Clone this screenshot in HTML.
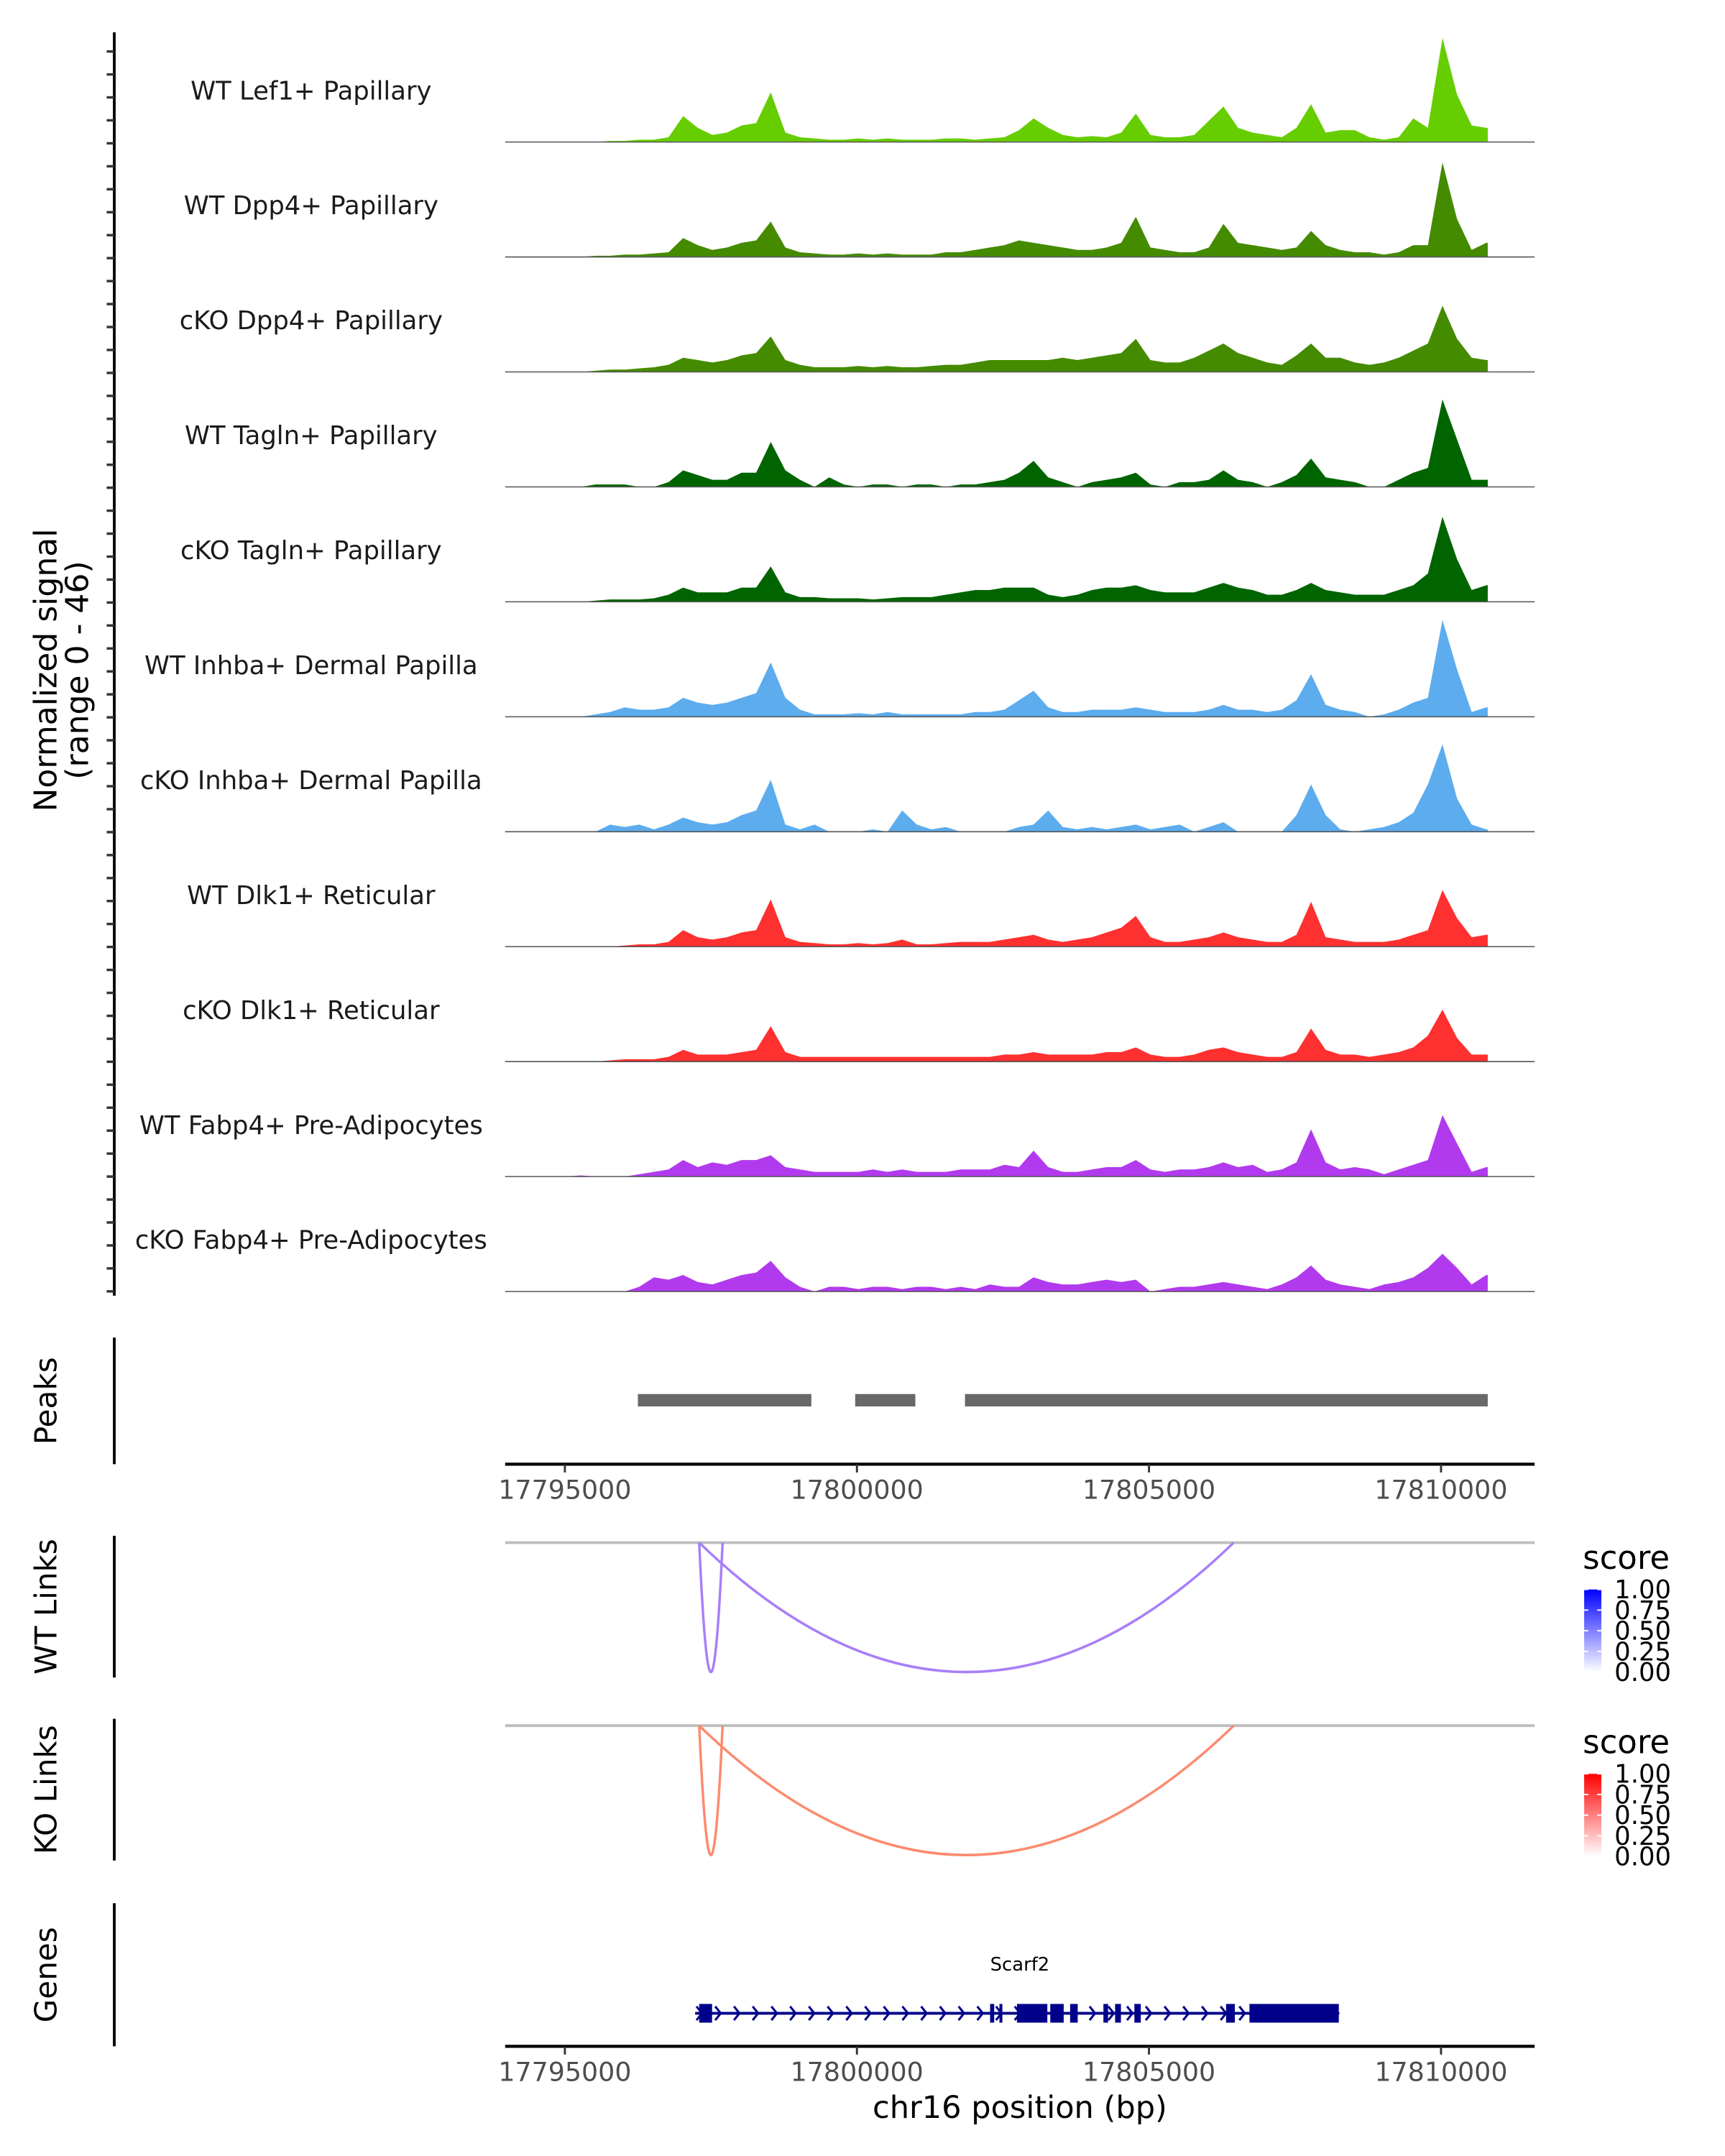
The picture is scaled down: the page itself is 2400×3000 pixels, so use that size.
<!DOCTYPE html>
<html><head><meta charset="utf-8"><style>
html,body{margin:0;padding:0;background:#fff;}
svg{display:block;font-family:"DejaVu Sans","Liberation Sans",sans-serif;}
</style></head><body>
<svg id="chart" width="2400" height="3000" viewBox="0 0 1253.3 1566.7" xmlns="http://www.w3.org/2000/svg">
<rect width="1253.3" height="1566.7" fill="#fff"/>
<g id="tracks"></g>
<g id="yaxis"></g>
<text transform="translate(41,487) rotate(-90)" text-anchor="middle" font-size="23" fill="#000">Normalized signal</text>
<text transform="translate(64,487) rotate(-90)" text-anchor="middle" font-size="23" fill="#000">(range 0 - 46)</text>
<g id="peaks"></g>
<g id="links"></g>
<g id="genes"></g>
<g id="legends"></g>
</svg>
<script>
const NS="http://www.w3.org/2000/svg";
const binStart=17795000, binSize=250;
const trackNames=["WT Lef1+ Papillary","WT Dpp4+ Papillary","cKO Dpp4+ Papillary","WT Tagln+ Papillary","cKO Tagln+ Papillary","WT Inhba+ Dermal Papilla","cKO Inhba+ Dermal Papilla","WT Dlk1+ Reticular","cKO Dlk1+ Reticular","WT Fabp4+ Pre-Adipocytes","cKO Fabp4+ Pre-Adipocytes"];
const trackColors=["#66cd00","#458b00","#458b00","#006400","#006400","#5cacee","#5cacee","#ff3030","#ff3030","#b23aee","#b23aee"];
const sigLef1WT=[0,0,0,0.5,0.5,1,1,2,11,6,3,4,7,8,21,4,2,1.5,1,1,1.5,1,1.5,1,1,1,1.5,1.5,1,1.5,2,5,10,6,3,2,2.5,2,4,12,3,2,2,3,9,15,6,4,3,2,6,16,4,5,5,2,1,2,10,6,44,20,7,6];
const sigDpp4WT=[0,0,0.5,0.5,1,1,1.5,2,8,5,3,4,6,7,15,4,2,1.5,1,1,1.5,1,1.5,1,1,1,2,2,3,4,5,7,6,5,4,3,3,4,6,17,4,3,2,2,4,14,6,5,4,3,4,11,5,3,2,2,1,2,5,5,40,16,3,6];
const sigDpp4KO=[0,0,0.5,1,1,1.5,2,3,6,5,4,5,7,8,15,5,3,2,2,2,2.5,2,2.5,2,2,2.5,3,3,4,5,5,5,5,5,6,5,6,7,8,14,5,4,4,6,9,12,8,6,4,3,7,12,6,6,4,3,4,6,9,12,28,14,6,5];
const sigTaglnWT=[0,0,1,1,1,0,0,2,7,5,3,3,6,6,19,7,3,0,4,1,0,1,1,0,1,1,0,1,1,2,3,6,11,4,2,0,2,3,4,6,1,0,2,2,3,7,3,2,0,2,5,12,4,3,2,0,0,3,6,8,37,20,3,3];
const sigTaglnKO=[0,0,0.5,1,1,1,1.5,3,6,4,4,4,6,6,15,4,2,2,1.5,1.5,1.5,1,1.5,2,2,2,3,4,5,5,6,6,6,3,2,3,5,6,6,7,5,4,4,4,6,8,6,5,3,3,5,8,5,4,3,3,3,5,7,12,36,18,5,7];
const sigInhbaWT=[0,0,1,2,4,3,3,4,8,6,5,6,8,10,23,8,3,1,1,1,1.5,1,2,1,1,1,1,1,2,2,3,7,11,4,2,2,3,3,3,4,3,2,2,2,3,5,3,3,2,3,7,18,5,3,2,0,1,3,6,8,41,20,2,4];
const sigInhbaKO=[0,0,0,3,2,3,1,3,6,4,3,4,7,9,22,3,1,3,0,0,0,1,0,9,3,1,2,0,0,0,0,2,3,9,2,1,2,1,2,3,1,2,3,0,2,4,0,0,0,0,7,20,7,1,0,1,2,4,8,20,37,14,3,1];
const sigDlk1WT=[0,0,0,0,0.5,1,1,2,7,4,3,4,6,7,20,4,2,1.5,1,1,1.5,1,1.5,3,1,1,1.5,2,2,2,3,4,5,3,2,3,4,6,8,13,4,2,2,3,4,6,4,3,2,2,5,19,4,3,2,2,2,3,5,7,24,12,4,5];
const sigDlk1KO=[0,0,0,0.5,1,1,1,2,5,3,3,3,4,5,15,4,2,2,2,2,2,2,2,2,2,2,2,2,2,2,3,3,4,3,3,3,3,4,4,6,3,2,2,3,5,6,4,3,2,2,4,14,5,3,3,2,3,4,6,11,22,10,3,3];
const sigFabp4WT=[0,0.5,0,0,0,1,2,3,7,4,6,5,7,7,9,4,3,2,2,2,2,3,2,3,2,2,2,3,3,3,5,4,11,4,2,2,3,4,4,7,3,2,3,3,4,6,4,5,2,3,6,20,6,3,4,3,1,3,5,7,26,14,2,4];
const sigFabp4KO=[0,0,0,0,0,2,6,5,7,4,3,5,7,8,13,6,2,0,2,2,1,2,2,1,2,2,1,2,1,3,2,2,6,4,3,3,4,5,4,5,0,1,2,2,3,4,3,2,1,3,6,11,5,3,2,1,3,4,6,10,16,10,3,7];
const signals=[sigLef1WT,sigDpp4WT,sigDpp4KO,sigTaglnWT,sigTaglnKO,sigInhbaWT,sigInhbaKO,sigDlk1WT,sigDlk1KO,sigFabp4WT,sigFabp4KO];
const peakStarts=[17796250,17799970,17801850];
const peakEnds=[17799220,17801000,17810800];
const axisTicks=[17795000,17800000,17805000,17810000];
const linkStarts=[17797300,17797300];
const linkEnds=[17797700,17806450];
const exonStarts=[17797300,17802280,17802440,17802740,17803310,17803650,17804220,17804420,17804750,17806320,17806720];
const exonEnds=[17797520,17802350,17802490,17803260,17803540,17803780,17804300,17804520,17804860,17806470,17808250];
const geneStart=17797230, geneEnd=17808250;
const legendTicks=["1.00","0.75","0.50","0.25","0.00"];
const yMax=46;

const X0=367, X1=1115, DATA_END=17810800;
function xs(bp){return 410.4+(bp-17795000)*0.04244;}
function el(tag,attrs,parent){const e=document.createElementNS(NS,tag);for(const k in attrs)e.setAttribute(k,attrs[k]);parent.appendChild(e);return e;}

const tg=document.getElementById('tracks');
const base0=103.2, step=83.53, hgt=79;
signals.forEach((vals,t)=>{
  const b=base0+t*step;
  const g=el('g',{},tg);
  
  
  let d='M'+xs(binStart)+','+b;
  vals.forEach((v,i)=>{
    let c=binStart+binSize*(i+0.1);
    if(c>DATA_END)c=DATA_END;
    d+=' L'+xs(c).toFixed(2)+','+(b-v/yMax*hgt).toFixed(2);
  });
  d+=' L'+xs(DATA_END)+','+(b-vals[vals.length-1]/yMax*hgt).toFixed(2)+' L'+xs(DATA_END)+','+b+' Z';
  const p=el('path',{d:d,fill:trackColors[t]},g);
  
  
  const bl=el('line',{x1:X0,x2:X1,y1:b,y2:b,stroke:'#555','stroke-width':0.8},g);
  
  
  const tx=el('text',{x:226,y:b-31,'text-anchor':'middle','font-size':18.5,fill:'#1a1a1a'},g);
  tx.textContent=trackNames[t];
  
  
});

const ya=document.getElementById('yaxis');
el('line',{x1:83,x2:83,y1:23.5,y2:941.5,stroke:'#000','stroke-width':2},ya);
for(let i=0;i<55;i++){const y=37.4+i*16.685;el('line',{x1:77.5,x2:83,y1:y,y2:y,stroke:'#333','stroke-width':1.8},ya);}

function sidePanel(label,y1,y2,name){
  const g=el('g',{},document.getElementById('links'));
  
  
  el('line',{x1:83,x2:83,y1:y1,y2:y2,stroke:'#000','stroke-width':2},g);
  const t=el('text',{transform:'translate(41,'+((y1+y2)/2)+') rotate(-90)','text-anchor':'middle','font-size':22,fill:'#000'},g);
  t.textContent=label;
  return g;
}
sidePanel('Peaks',972,1064,'peaks-label');
sidePanel('WT Links',1116,1219,'wt-links-label');
sidePanel('KO Links',1249,1352,'ko-links-label');
sidePanel('Genes',1383,1487,'genes-label');

const pg=document.getElementById('peaks');
peakStarts.forEach((s,i)=>{
  const r=el('rect',{x:xs(s),y:1013,width:xs(peakEnds[i])-xs(s),height:9,fill:'#686868'},pg);
  
  
});
function xAxis(y,parent){
  el('line',{x1:X0,x2:X1,y1:y,y2:y,stroke:'#000','stroke-width':2.2},parent);
  axisTicks.forEach(v=>{
    el('line',{x1:xs(v),x2:xs(v),y1:y,y2:y+6,stroke:'#333','stroke-width':1.5},parent);
    const t=el('text',{x:xs(v),y:y+25,'text-anchor':'middle','font-size':19,fill:'#4d4d4d'},parent);
    t.textContent=v;
    
    
  });
}
xAxis(1064,pg);

const lg=document.getElementById('links');
function linkPanel(y0,color){
  el('line',{x1:X0,x2:X1,y1:y0,y2:y0,stroke:'#bebebe','stroke-width':2},lg);
  linkStarts.forEach((s,i)=>{
    const a=xs(s),b=xs(linkEnds[i]),k=94*2;
    const p=el('path',{d:`M${a},${y0} Q${(a+b)/2},${y0+k} ${b},${y0}`,fill:'none',stroke:color,'stroke-width':1.8},lg);
    
    
  });
}
linkPanel(1121,'#a77ff8');
linkPanel(1254,'#fc8a6e');

const gg=document.getElementById('genes');
const gy=1463;
el('line',{x1:xs(geneStart),x2:xs(geneEnd),y1:gy,y2:gy,stroke:'#00008b','stroke-width':2},gg);
for(let x=xs(geneStart)+3;x<xs(geneEnd);x+=13.6){
  el('path',{d:`M${x-2},${gy-5} L${x+2},${gy} L${x-2},${gy+5}`,fill:'none',stroke:'#00008b','stroke-width':1.6},gg);
}
exonStarts.forEach((s,i)=>{
  const r=el('rect',{x:xs(s),y:gy-6.8,width:Math.max(2,xs(exonEnds[i])-xs(s)),height:13.6,fill:'#00008b'},gg);
  
  
});
const gn=el('text',{x:741,y:1432,'text-anchor':'middle','font-size':13.5,fill:'#000'},gg);
gn.textContent='Scarf2';


xAxis(1487,gg);
const xt=el('text',{x:741,y:1539,'text-anchor':'middle','font-size':22.5,fill:'#000'},gg);
xt.textContent='chr16 position (bp)';



const leg=document.getElementById('legends');
function legend(y0,color,id){
  const g=el('g',{},leg);
  
  
  const t=el('text',{x:1150,y:y0,'font-size':23.5,fill:'#000'},g);
  t.textContent='score';
  const lgd=el('linearGradient',{id:id,x1:0,y1:1,x2:0,y2:0},g);
  el('stop',{offset:0,'stop-color':'#ffffff'},lgd);
  el('stop',{offset:1,'stop-color':color},lgd);
  el('rect',{x:1151,y:y0+15,width:12.5,height:60,fill:'url(#'+id+')'},g);
  legendTicks.forEach((v,i)=>{
    const yy=y0+15+i*15;
    el('line',{x1:1151,x2:1154,y1:yy,y2:yy,stroke:'#fff','stroke-width':1},g);
    el('line',{x1:1160.5,x2:1163.5,y1:yy,y2:yy,stroke:'#fff','stroke-width':1},g);
    const l=el('text',{x:1173,y:yy+6.5,'font-size':18.5,fill:'#000'},g);
    l.textContent=v;
  });
}
legend(1140,'#0000ff','gB');
legend(1274,'#ff0000','gR');
</script>
</body></html>
